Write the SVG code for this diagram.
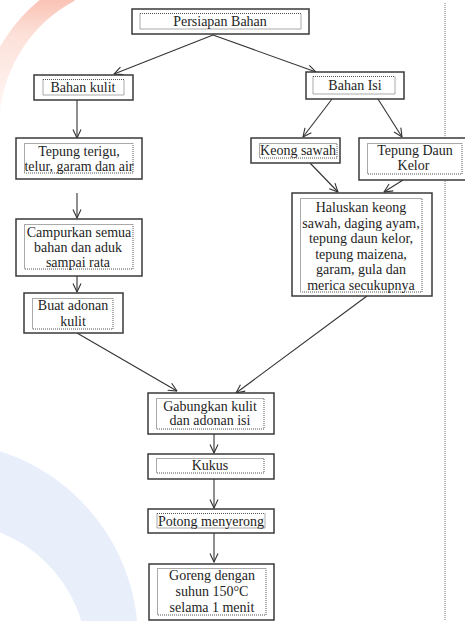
<svg xmlns="http://www.w3.org/2000/svg" width="465" height="621" viewBox="0 0 465 621">
  <defs>
    <marker id="arr" viewBox="0 0 10 10" refX="9.5" refY="5" markerWidth="10" markerHeight="10" markerUnits="userSpaceOnUse" orient="auto">
      <path d="M1,1 L9.5,5 L1,9" fill="none" stroke="#333" stroke-width="1.1"/>
    </marker>
    <linearGradient id="wmr" x1="0" y1="0" x2="0" y2="1">
      <stop offset="0" stop-color="#f7a08a"/>
      <stop offset="0.35" stop-color="#fbd3c8"/>
      <stop offset="1" stop-color="#fff4f1"/>
    </linearGradient>
    <style>
      .box { fill: #fff; stroke: #3a3a3a; stroke-width: 1.5; }
      .inner { fill: none; stroke: #555; stroke-width: 1; stroke-dasharray: 1 1; }
      .t { font-family: "Liberation Serif", "Times New Roman", serif; font-size: 14px; fill: #1e1e1e; text-anchor: middle; }
      .conn line { stroke: #333; stroke-width: 1.1; marker-end: url(#arr); }
    </style>
  </defs>
  <rect width="465" height="621" fill="#fff"/>
  <!-- watermark -->
  <g id="watermark">
    <path d="M-10,112 A152,152 0 0 1 70,-8" fill="none" stroke="url(#wmr)" stroke-width="20" opacity="0.7"/>
    <circle cx="-60" cy="640" r="198" fill="#e8effb"/>
    <circle cx="-50" cy="660" r="137" fill="#fff"/>
  </g>
  <line x1="445" y1="3" x2="445" y2="621" stroke="#777" stroke-width="1" stroke-dasharray="1 1"/>

  <g class="conn" id="connectors">
    <line x1="213" y1="35" x2="114" y2="74"/>
    <line x1="213" y1="35" x2="316" y2="72"/>
    <line x1="77" y1="100" x2="77" y2="138"/>
    <line x1="332" y1="99" x2="303" y2="137"/>
    <line x1="378" y1="99" x2="402" y2="137"/>
    <line x1="77" y1="193" x2="77" y2="218"/>
    <line x1="77" y1="276" x2="77" y2="292"/>
    <line x1="310" y1="163" x2="338" y2="192"/>
    <line x1="403" y1="180" x2="384" y2="192"/>
    <line x1="77" y1="333" x2="177" y2="391"/>
    <line x1="367" y1="296" x2="236" y2="393"/>
    <line x1="214" y1="434" x2="214" y2="453"/>
    <line x1="214" y1="479" x2="214" y2="508"/>
    <line x1="214" y1="533" x2="214" y2="562"/>
  </g>

  <g id="persiapan">
    <rect class="box" x="132" y="9" width="177" height="25"/>
    <rect class="inner" x="140" y="13.5" width="161" height="15.5"/>
    <text class="t" x="220" y="26">Persiapan Bahan</text>
  </g>
  <g id="bahan-kulit">
    <rect class="box" x="34" y="75" width="99" height="25"/>
    <rect class="inner" x="43" y="79.5" width="81" height="15.5"/>
    <text class="t" x="83" y="92">Bahan kulit</text>
  </g>
  <g id="bahan-isi">
    <rect class="box" x="306" y="72" width="98" height="27"/>
    <rect class="inner" x="313" y="76.5" width="82" height="17.5"/>
    <text class="t" x="355" y="90">Bahan Isi</text>
  </g>
  <g id="tepung-terigu">
    <rect class="box" x="16" y="138" width="126" height="41"/>
    <rect class="inner" x="24.5" y="143.5" width="108.5" height="29.5"/>
    <text class="t" x="79" y="155.5">Tepung terigu,</text>
    <text class="t" x="79" y="171">telur, garam dan air</text>
  </g>
  <g id="campurkan">
    <rect class="box" x="16" y="219" width="126" height="57"/>
    <rect class="inner" x="24.5" y="224.5" width="108.5" height="44.5"/>
    <text class="t" x="79" y="236.5">Campurkan semua</text>
    <text class="t" x="78" y="251.5">bahan dan aduk</text>
    <text class="t" x="78" y="266.5">sampai rata</text>
  </g>
  <g id="buat-adonan">
    <rect class="box" x="24" y="293" width="99" height="40"/>
    <rect class="inner" x="32.5" y="298.5" width="80.5" height="30.5"/>
    <text class="t" x="73" y="310">Buat adonan</text>
    <text class="t" x="73" y="325.5">kulit</text>
  </g>
  <g id="keong-sawah">
    <rect class="box" x="251" y="138" width="89" height="25"/>
    <rect class="inner" x="259.5" y="143.5" width="77.5" height="14.5"/>
    <text class="t" x="298" y="154.5">Keong sawah</text>
  </g>
  <g id="tepung-daun">
    <rect class="box" x="359" y="138" width="108" height="42"/>
    <rect class="inner" x="367.5" y="143.5" width="94.5" height="30.5"/>
    <text class="t" x="415" y="154.5">Tepung Daun</text>
    <text class="t" x="413.5" y="170">Kelor</text>
  </g>
  <g id="haluskan">
    <rect class="box" x="292" y="193" width="140" height="103"/>
    <rect class="inner" x="300.5" y="198.5" width="121.5" height="93.5"/>
    <text class="t" x="361" y="212">Haluskan keong</text>
    <text class="t" x="361" y="227.5">sawah, daging ayam,</text>
    <text class="t" x="361" y="243">tepung daun kelor,</text>
    <text class="t" x="361" y="258.5">tepung maizena,</text>
    <text class="t" x="361" y="274">garam, gula dan</text>
    <text class="t" x="361" y="289.5">merica secukupnya</text>
  </g>
  <g id="gabungkan">
    <rect class="box" x="148" y="393" width="126" height="41"/>
    <rect class="inner" x="156.5" y="398.5" width="107.5" height="30.5"/>
    <text class="t" x="210" y="410.5">Gabungkan kulit</text>
    <text class="t" x="210" y="425">dan adonan isi</text>
  </g>
  <g id="kukus">
    <rect class="box" x="148" y="454" width="126" height="25"/>
    <rect class="inner" x="156.5" y="458.5" width="107.5" height="14.5"/>
    <text class="t" x="210" y="470">Kukus</text>
  </g>
  <g id="potong">
    <rect class="box" x="148" y="509" width="126" height="24"/>
    <rect class="inner" x="157" y="513.5" width="108" height="14.5"/>
    <text class="t" x="211" y="526">Potong menyerong</text>
  </g>
  <g id="goreng">
    <rect class="box" x="149" y="564" width="125" height="56"/>
    <rect class="inner" x="157.5" y="568.5" width="108.5" height="46.5"/>
    <text class="t" x="212" y="580">Goreng dengan</text>
    <text class="t" x="212" y="596">suhun 150°C</text>
    <text class="t" x="212" y="611.5">selama 1 menit</text>
  </g>
</svg>
